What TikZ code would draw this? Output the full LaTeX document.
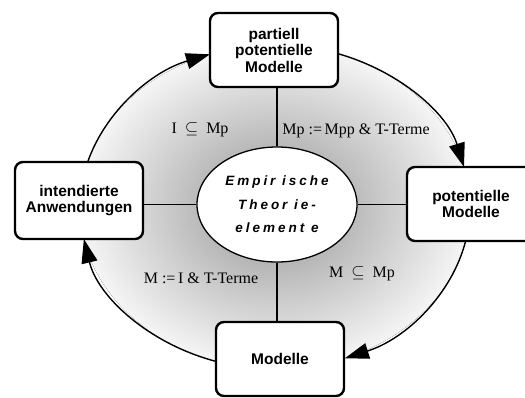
\documentclass[tikz,border=0pt]{standalone}
\usepackage{fontspec}
\setmainfont{Liberation Serif}
\setsansfont{Liberation Sans}
\newfontfamily\corefont[LetterSpace=22]{Liberation Sans}
\usetikzlibrary{arrows.meta,shapes.geometric}

\begin{document}
\begin{tikzpicture}
                [x=1pt, y=1pt,
                  box/.style={draw, line width=2.4pt, rounded corners=8pt, fill=white,
                    minimum width=128pt, minimum height=74pt, inner sep=2pt, align=center,
                    font=\sffamily\bfseries\fontsize{15.5}{16.5}\selectfont},
                  core/.style={ellipse, draw, line width=1.3pt, fill=white, inner sep=0pt,
                    minimum width=160pt, minimum height=115pt, align=center,
                    font=\corefont\bfseries\itshape\fontsize{13.5}{23.5}\selectfont},
                  spoke/.style={line width=1.3pt},
                  flow/.style={line width=1.4pt, -{Triangle[length=24pt,width=16pt]}},
                  rel/.style={font=\fontsize{16}{18}\selectfont, inner sep=1pt},
                ]
                \useasboundingbox (0,0) rectangle (525,-397);
                \coordinate (ring) at (275,-207);
                % shaded ring
                \fill [inner color=black!42, outer color=black!4]
                  (ring) ellipse [x radius=195, y radius=162];

                \node [core] (core) at (277,-204.5) {Empir ische\\Theor ie-\\element e};

                \node [box] (ppm) at (274,-50)  {partiell\\potentielle\\Modelle};
                \node [box, minimum height=77pt] (ia) at (79,-200.5) {intendierte\\Anwendungen};
                \node [box] (pm)  at (471,-204) {potentielle\\Modelle};
                \node [box] (mod) at (280,-359) {Modelle};

                \draw [spoke] (core.north) -- (core.north |- ppm.south);
                \draw [spoke] (core.south) -- (core.south |- mod.north);
                \draw [spoke] (core.west) -- (core.west -| ia.east);
                \draw [spoke] (core.east) -- (core.east -| pm.west);

                % arcs of the ring, clockwise
                \draw [flow] ([shift={(163.9:195 and 162)}]ring)
                  arc [start angle=163.9, end angle=109.5, x radius=195, y radius=162];
                \draw [flow] ([shift={(71.2:195 and 162)}]ring)
                  arc [start angle=71.2, end angle=14.3, x radius=195, y radius=162];
                \draw [flow] ([shift={(-12.1:195 and 162)}]ring)
                  arc [start angle=-12.1, end angle=-69, x radius=195, y radius=162];
                \draw [flow] ([shift={(-107.9:195 and 162)}]ring)
                  arc [start angle=-107.9, end angle=-168.6, x radius=195, y radius=162];

                \node [rel] (iMp)   at (200,-130) {I\ \ $\subseteq$\ \ Mp};
                \node [rel] (mpDef) at (356,-131) {Mp :=\,Mpp \& T-Terme};
                \node [rel] (mDef)  at (201,-278) {M :=\,I \& T-Terme};
                \node [rel] (mMp)   at (362,-274) {M\ \ $\subseteq$\ \ Mp};
            \end{tikzpicture}
\end{document}
